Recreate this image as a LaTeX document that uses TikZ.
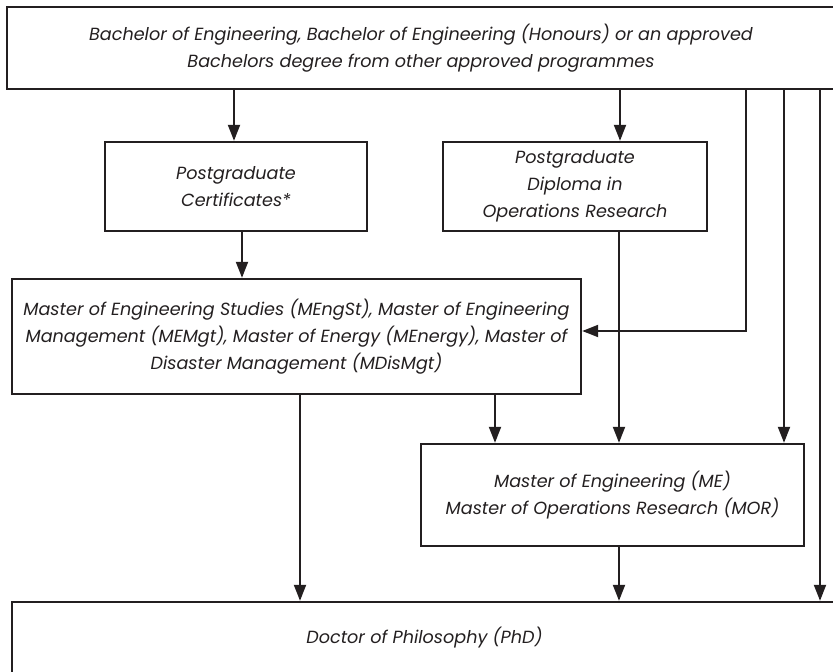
\documentclass[tikz,border=0pt]{standalone}
\usepackage{fontspec}
\setmainfont{Poppins}
\usetikzlibrary{arrows.meta}
\definecolor{ink}{HTML}{231F20}
\begin{document}
\begin{tikzpicture}[x=1pt,y=-1pt,
  box/.style={draw=ink, line width=2.4pt, rectangle, inner sep=0pt, align=center,
    text=ink, font=\fontsize{17.6}{27}\selectfont\itshape},
  arr/.style={draw=ink, line width=2pt, -{Triangle[length=16pt,width=12pt]}},
  ln/.style={draw=ink, line width=2pt}]
\useasboundingbox (0,0) rectangle (833,672);
\clip (0,0) rectangle (833,672);

\node[box, minimum width=828, minimum height=82] (bach) at (421,48)
  {Bachelor of Engineering, Bachelor of Engineering (Honours) or an approved\\
   Bachelors degree from other approved programmes};
\node[box, minimum width=262, minimum height=89] (pgc) at (236,186.5)
  {Postgraduate\\Certificates*};
\node[box, minimum width=264, minimum height=89] (pgd) at (575,186.5)
  {Postgraduate\\Diploma in\\Operations Research};
\node[box, minimum width=569, minimum height=115] (meng) at (296.5,336.5)
  {Master of Engineering Studies (MEngSt), Master of Engineering\\
   Management (MEMgt), Master of Energy (MEnergy), Master of\\
   Disaster Management (MDisMgt)};
\node[box, minimum width=383, minimum height=102] (me) at (612.5,495)
  {Master of Engineering (ME)\\Master of Operations Research (MOR)};
\node[box, minimum width=825, minimum height=72] (phd) at (424.5,638)
  {Doctor of Philosophy (PhD)};

\coordinate (c1) at (746,331);
\coordinate (x784) at (784,0);
\coordinate (x820) at (820,0);
\coordinate (x495) at (495,0);
\coordinate (x300) at (300,0);
\coordinate (x619) at (619,0);

\draw[arr] ([xshift=-2pt]pgc.north |- bach.south) -- ([xshift=-2pt]pgc.north);
\draw[arr] ([xshift=45pt]pgd.north |- bach.south) -- ([xshift=45pt]pgd.north);
\draw[arr] ([xshift=6pt]pgc.south) -- ([xshift=6pt]pgc.south |- meng.north);
\draw[arr] (pgd.south -| x619) -- (me.north -| x619);
\draw[arr] (bach.south -| c1) -- (c1) -- (meng.east |- c1);
\draw[arr] (bach.south -| x784) -- (me.north -| x784);
\draw[arr] (bach.south -| x820) -- (phd.north -| x820);
\draw[arr] (meng.south -| x495) -- (me.north -| x495);
\draw[arr] (meng.south -| x300) -- (phd.north -| x300);
\draw[arr] (me.south -| x619) -- (phd.north -| x619);
\end{tikzpicture}
\end{document}
